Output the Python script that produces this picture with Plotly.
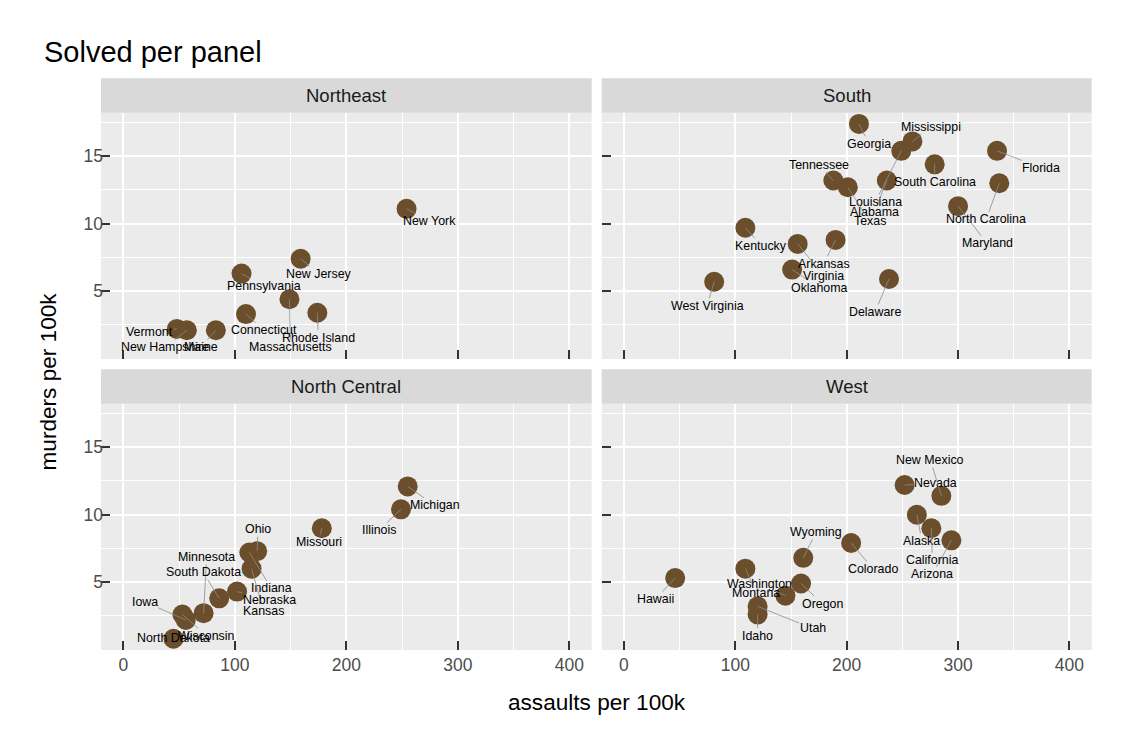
import plotly.graph_objects as go

# ---------------- data (USArrests) ----------------
states = ["Connecticut", "Maine", "Massachusetts", "New Hampshire", "New Jersey", "New York",
          "Pennsylvania", "Rhode Island", "Vermont",
          "Alabama", "Arkansas", "Delaware", "Florida", "Georgia", "Kentucky", "Louisiana",
          "Maryland", "Mississippi", "North Carolina", "Oklahoma", "South Carolina", "Tennessee",
          "Texas", "Virginia", "West Virginia",
          "Illinois", "Indiana", "Iowa", "Kansas", "Michigan", "Minnesota", "Missouri",
          "Nebraska", "North Dakota", "Ohio", "South Dakota", "Wisconsin",
          "Alaska", "Arizona", "California", "Colorado", "Hawaii", "Idaho", "Montana", "Nevada",
          "New Mexico", "Oregon", "Utah", "Washington", "Wyoming"]
regions = (["Northeast"] * 9 + ["South"] * 16 + ["North Central"] * 12 + ["West"] * 13)
murder = [3.3, 2.1, 4.4, 2.1, 7.4, 11.1, 6.3, 3.4, 2.2,
          13.2, 8.8, 5.9, 15.4, 17.4, 9.7, 15.4, 11.3, 16.1, 13.0, 6.6, 14.4, 13.2, 12.7, 8.5, 5.7,
          10.4, 7.2, 2.2, 6.0, 12.1, 2.7, 9.0, 4.3, 0.8, 7.3, 3.8, 2.6,
          10.0, 8.1, 9.0, 7.9, 5.3, 2.6, 6.0, 12.2, 11.4, 4.9, 3.2, 4.0, 6.8]
assault = [110, 83, 149, 57, 159, 254, 106, 174, 48,
           236, 190, 238, 335, 211, 109, 249, 300, 259, 337, 151, 279, 188, 201, 156, 81,
           249, 113, 56, 115, 255, 72, 178, 102, 45, 120, 86, 53,
           263, 294, 276, 204, 46, 120, 109, 252, 285, 159, 120, 145, 161]
panels = ["Northeast", "South", "North Central", "West"]
x_ticks = [0, 100, 200, 300, 400]
y_ticks = [5, 10, 15]

# ---------------- label placement (pixel offsets of label centre from point) ----------------
label_offsets = {
    "New York": (23, 12), "New Jersey": (18, 15), "Pennsylvania": (22, 12),
    "Connecticut": (18, 16), "Rhode Island": (1, 25), "Massachusetts": (1, 48),
    "Vermont": (-27, 3), "New Hampshire": (-22, 17), "Maine": (-15, 17),
    "Georgia": (10, 20), "Mississippi": (19, -14), "Louisiana": (-26, 51),
    "Alabama": (-12, 31), "Texas": (22, 34), "Florida": (44, 17),
    "South Carolina": (0, 18), "North Carolina": (-13, 36), "Maryland": (29, 37),
    "Tennessee": (-14, -16), "Kentucky": (16, 18), "Arkansas": (-12, 24),
    "Virginia": (26, 32), "Oklahoma": (27, 18), "Delaware": (-14, 33),
    "West Virginia": (-7, 24),
    "Michigan": (27, 19), "Illinois": (-22, 21), "Missouri": (-3, 14), "Ohio": (1, -22),
    "Indiana": (22, 36), "Minnesota": (3, -56), "South Dakota": (-16, -26),
    "Kansas": (12, 42), "Nebraska": (32, 8), "Iowa": (-41, -18), "Wisconsin": (24, 21),
    "North Dakota": (0, -1),
    "New Mexico": (-11, -36), "Nevada": (31, -2), "Alaska": (5, 26), "California": (1, 32),
    "Arizona": (-19, 34), "Colorado": (22, 26), "Wyoming": (13, -26), "Washington": (-26, -12),
    "Montana": (11, 24), "Oregon": (21, 20), "Utah": (55, 22), "Idaho": (0, 21),
    "Hawaii": (-20, 21),
}

OFF = 8  # page body margin
W, H = 1125 - OFF, 750 - OFF
FONT = "Liberation Sans, Arial, Helvetica, sans-serif"
POINT_COLOR = "#6B4E2B"

# panel geometry in window pixels
left_x = (101.0, 591.7)
right_x = (601.7, 1091.7)
top_y = (112.7, 359.0)
bot_y = (403.7, 650.0)
strip_h = 34.5

geom = {
    "Northeast": (left_x, top_y),
    "South": (right_x, top_y),
    "North Central": (left_x, bot_y),
    "West": (right_x, bot_y),
}

def px2x(p):
    return (p - OFF) / W

def py2y(p):
    return 1 - (p - OFF) / H

fig = go.Figure()
annotations = []
shapes = []
layout_axes = {}

for i, panel in enumerate(panels):
    n = "" if i == 0 else str(i + 1)
    xref, yref = "x" + n, "y" + n
    idx = [k for k, r in enumerate(regions) if r == panel]
    fig.add_trace(go.Scatter(
        x=[assault[k] for k in idx], y=[murder[k] for k in idx],
        mode="markers", xaxis=xref, yaxis=yref,
        marker=dict(size=20, color=POINT_COLOR, line=dict(width=0)),
        hoverinfo="skip", showlegend=False,
    ))
    (gx0, gx1), (gy0, gy1) = geom[panel]
    is_bottom = panel in ("North Central", "West")
    is_left = panel in ("Northeast", "North Central")
    layout_axes["xaxis" + n] = dict(
        domain=[px2x(gx0), px2x(gx1)], range=[-20, 420], anchor=yref,
        tickmode="array", tickvals=x_ticks, showticklabels=is_bottom,
        ticks="inside", ticklen=9, tickwidth=1.6, tickcolor="#333333",
        ticklabelstandoff=2,
        tickfont=dict(family=FONT, size=17.5, color="#4D4D4D"),
        showgrid=True, gridcolor="white", gridwidth=1.8,
        minor=dict(tickmode="array", tickvals=[50, 150, 250, 350], showgrid=True,
                   gridcolor="white", gridwidth=0.9, ticks=""),
        zeroline=False, showline=False, fixedrange=True,
    )
    layout_axes["yaxis" + n] = dict(
        domain=[py2y(gy1), py2y(gy0)], range=[-0.03, 18.23], anchor=xref,
        tickmode="array", tickvals=y_ticks, showticklabels=is_left,
        ticks="inside", ticklen=9, tickwidth=1.6, tickcolor="#333333",
        ticklabelstandoff=-3,
        tickfont=dict(family=FONT, size=17.5, color="#4D4D4D"),
        showgrid=True, gridcolor="white", gridwidth=1.8,
        minor=dict(tickmode="array", tickvals=[2.5, 7.5, 12.5, 17.5], showgrid=True,
                   gridcolor="white", gridwidth=0.9, ticks=""),
        zeroline=False, showline=False, fixedrange=True,
    )
    # strip
    shapes.append(dict(type="rect", xref="paper", yref="paper",
                       x0=px2x(gx0), x1=px2x(gx1), y0=py2y(gy0), y1=py2y(gy0 - strip_h),
                       fillcolor="#D9D9D9", line=dict(width=0), layer="below"))
    annotations.append(dict(text=panel, xref="paper", yref="paper",
                            x=px2x((gx0 + gx1) / 2), y=py2y(gy0 - strip_h / 2),
                            xanchor="center", yanchor="middle", showarrow=False,
                            font=dict(family=FONT, size=18.5, color="#1A1A1A")))
    # repelled labels
    for k in idx:
        dx, dy = label_offsets[states[k]]
        annotations.append(dict(
            text=states[k], x=assault[k], y=murder[k], xref=xref, yref=yref,
            showarrow=True, arrowhead=0, arrowwidth=0.8, arrowcolor="#8C8C8C",
            standoff=0, ax=dx, ay=dy, borderpad=0,
            font=dict(family=FONT, size=12.4, color="black"),
        ))

# titles
annotations.append(dict(text="Solved per panel", xref="paper", yref="paper",
                        x=px2x(42), y=py2y(52.5), xanchor="left", yanchor="middle",
                        showarrow=False, font=dict(family=FONT, size=29, color="black")))
annotations.append(dict(text="assaults per 100k", xref="paper", yref="paper",
                        x=px2x(597), y=py2y(702), xanchor="center", yanchor="middle",
                        showarrow=False, font=dict(family=FONT, size=22.6, color="black")))
annotations.append(dict(text="murders per 100k", xref="paper", yref="paper",
                        x=px2x(47.5), y=py2y(382), xanchor="center", yanchor="middle",
                        textangle=-90, showarrow=False,
                        font=dict(family=FONT, size=22.6, color="black")))

fig.update_layout(
    width=W, height=H, margin=dict(l=0, r=0, t=0, b=0),
    paper_bgcolor="white", plot_bgcolor="#EBEBEB",
    showlegend=False, hovermode=False,
    annotations=annotations, shapes=shapes,
    font=dict(family=FONT),
    **layout_axes,
)

fig.write_html("out.html")
